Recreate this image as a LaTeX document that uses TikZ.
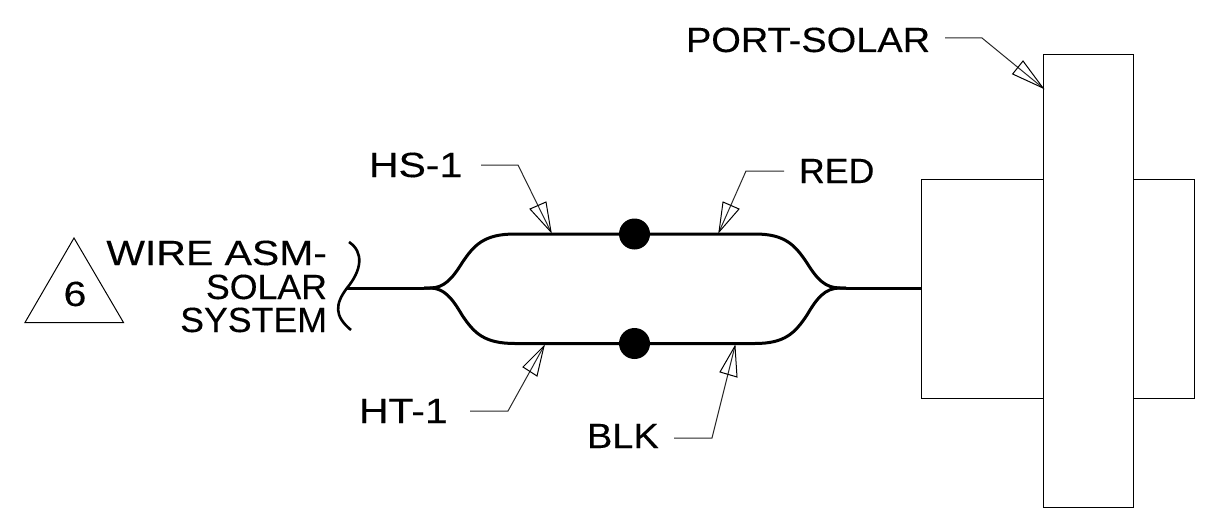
\documentclass[tikz,border=0pt]{standalone}
\usepackage{fontspec}
\setmainfont{Liberation Sans}
\newfontfamily\wideface[FakeStretch=1.17,FakeBold=0.25]{Liberation Sans}
\newfontfamily\midface[FakeStretch=1.085,FakeBold=0.25]{Liberation Sans}
\newfontfamily\plainface[FakeStretch=1.02,FakeBold=0.25]{Liberation Sans}
\tikzset{
  lab/.style={inner sep=0pt,outer sep=0pt,font=\wideface\fontsize{35}{35}\selectfont},
  labmid/.style={lab,font=\midface\fontsize{35}{35}\selectfont},
  labplain/.style={lab,font=\plainface\fontsize{35}{35}\selectfont},
  outline/.style={draw=black,line width=1pt},
  leader/.style={draw=black!85,line width=1pt,line join=miter},
  headline/.style={draw=black,line width=1pt,line join=miter},
  wire/.style={draw=black,line width=3pt},
  junction/.style={circle,fill=black,draw=none,minimum size=31pt,inner sep=0pt},
}
\begin{document}
\begin{tikzpicture}[x=1pt,y=-1pt]
\useasboundingbox (0,0) rectangle (1209,508);
% housing
\draw[outline] (921.5,179) rectangle (1043,398);
\draw[outline] (1133,179) rectangle (1194,398);
\node[outline,fill=white,minimum width=90pt,minimum height=452pt,inner sep=0pt,outer sep=0pt,anchor=north west] (port) at (1043,55) {};
% delta note
\coordinate (dTop) at (74,238);
\coordinate (dRight) at (123.5,322.5);
\coordinate (dLeft) at (25,322.5);
\draw[line width=1pt,line join=miter] (dTop) -- (dRight) -- (dLeft) -- cycle;
\node[lab,anchor=base] (six) at (75,306) {6};
% wire label
\node[lab,anchor=base east] (wa) at (327,265) {WIRE ASM-};
\node[labplain,anchor=base east] (wb) at (327,299) {SOLAR};
\node[labplain,anchor=base east] (wc) at (327,332) {SYSTEM};
% wires
\coordinate (cutTop) at (349,242);
\coordinate (cutMid) at (347,288);
\coordinate (cutBot) at (351,330);
\coordinate (forkL) at (424,288);
\coordinate (forkR) at (846,288);
\coordinate (upL) at (515,234);
\coordinate (upR) at (755,234);
\coordinate (loL) at (515,343.5);
\coordinate (loR) at (755,343.5);
\node[junction] (dotU) at (634.5,234) {};
\node[junction] (dotL) at (634.5,343.5) {};
\draw[wire,line width=2.6pt] (cutTop) .. controls (364,252) and (362,270) .. (cutMid)
  .. controls (335,304) and (334,316) .. (cutBot);
\draw[wire] (cutMid) -- (forkL);
\draw[wire] (forkL) -- (430,288) .. controls (444,288) and (452,279) .. (462,263)
  .. controls (474,245) and (484,234) .. (upL) -- (dotU) -- (upR)
  .. controls (785,234) and (795,245) .. (807,263)
  .. controls (817,279) and (825,288) .. (840,288) -- (forkR);
\draw[wire] (forkL) -- (430,288) .. controls (444,288) and (452,298) .. (462,315)
  .. controls (474,333) and (484,343.5) .. (loL) -- (dotL) -- (loR)
  .. controls (785,343.5) and (795,333) .. (807,315)
  .. controls (817,298) and (825,288) .. (840,288) -- (forkR);
\coordinate (portIn) at (921.5,288);
\draw[wire] (forkR) -- (portIn);
% labels
\node[lab,anchor=base west] (hs) at (369,177) {HS-1};
\node[lab,anchor=base west] (ht) at (359,423) {HT-1};
\node[labplain,anchor=base west] (red) at (799,183) {RED};
\node[labmid,anchor=base west] (blk) at (587,448) {BLK};
\node[labmid,anchor=base west] (ps) at (686,52) {PORT-SOLAR};
% leaders
\coordinate (hs0) at (481,165); \coordinate (hs1) at (518,165); \coordinate (hsT) at (551,232);
\draw[leader] (hs0) -- (hs1) -- (hsT);
\draw[headline] (hsT) -- (530,209) -- (546,202) -- cycle;
\coordinate (re0) at (784,171); \coordinate (re1) at (746,171); \coordinate (reT) at (719,232);
\draw[leader] (re0) -- (re1) -- (reT);
\draw[headline] (reT) -- (723,202) -- (739,209) -- cycle;
\coordinate (ht0) at (470,411); \coordinate (ht1) at (508,411); \coordinate (htT) at (544,346);
\draw[leader] (ht0) -- (ht1) -- (htT);
\draw[headline] (htT) -- (523,367) -- (537,376) -- cycle;
\coordinate (bl0) at (674,438); \coordinate (bl1) at (712,438); \coordinate (blT) at (735,346);
\draw[leader] (bl0) -- (bl1) -- (blT);
\draw[headline] (blT) -- (720,372) -- (737,377) -- cycle;
\coordinate (ps0) at (945,38); \coordinate (ps1) at (982,38); \coordinate (psT) at (1043,88);
\draw[leader] (ps0) -- (ps1) -- (psT);
\draw[headline] (psT) -- (1012.6,74) -- (1023,61) -- cycle;
\end{tikzpicture}
\end{document}
